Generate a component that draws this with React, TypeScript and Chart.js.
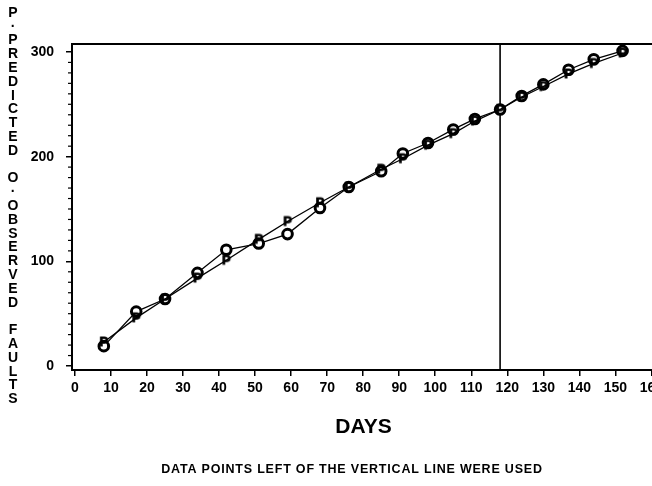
import { useEffect, useRef } from "react";
import { Chart, registerables } from "chart.js";

Chart.register(...registerables);

// ---- data ----
const days = [8, 17, 25, 34, 42, 51, 59, 68, 76, 85, 91, 98, 105, 111, 118, 124, 130, 137, 144, 152];
const observed = [19, 52, 64, 89, 111, 117, 126, 151, 171, 186, 203, 213, 226, 236, 245, 258, 269, 283, 293, 301];
const predicted = [23, 46, 64, 84, 101, 121, 138, 156, 171, 188, 198, 211, 222, 234, 245, 257, 267, 279, 289, 299];

const xTickValues = [0, 10, 20, 30, 40, 50, 60, 70, 80, 90, 100, 110, 120, 130, 140, 150, 160];
const yTickValues = [0, 100, 200, 300];
const yMinorTickValues = [10, 20, 30, 40, 50, 60, 70, 80, 90, 110, 120, 130, 140, 150, 160, 170, 180, 190, 210, 220, 230, 240, 250, 260, 270, 280, 290, 310];

const cutoffDay = 118;
const xTitle = "DAYS";
const yTitle = "P·PREDICTED O·OBSERVED FAULTS";
const footnote = "DATA POINTS LEFT OF THE VERTICAL LINE WERE USED";

const FONT = '"Liberation Sans", Arial, Helvetica, sans-serif';

function makeLetterMarker(ch: string): HTMLCanvasElement {
  const c = document.createElement("canvas");
  c.width = 14;
  c.height = 16;
  const g = c.getContext("2d")!;
  g.fillStyle = "#000";
  g.strokeStyle = "#000";
  g.lineWidth = 0.8;
  g.font = `bold 13px ${FONT}`;
  g.textAlign = "center";
  g.textBaseline = "middle";
  g.fillText(ch, 7, 8.5);
  g.strokeText(ch, 7, 8.5);
  return c;
}

const decorPlugin = {
  id: "decor",
  beforeDatasetsDraw(chart: any) {
    const { ctx, chartArea, scales } = chart;
    ctx.save();
    ctx.strokeStyle = "#000";
    ctx.lineWidth = 1.6;
    const cx = scales.x.getPixelForValue(cutoffDay);
    ctx.beginPath();
    ctx.moveTo(cx, chartArea.top);
    ctx.lineTo(cx, chartArea.bottom);
    ctx.stroke();
    ctx.restore();
  },
  afterDraw(chart: any) {
    const { ctx, chartArea, scales } = chart;
    ctx.save();
    ctx.strokeStyle = "#000";
    // top frame line
    ctx.lineWidth = 2;
    ctx.beginPath();
    ctx.moveTo(chartArea.left - 1, chartArea.top);
    ctx.lineTo(chartArea.right, chartArea.top);
    ctx.stroke();
    // minor ticks on y axis
    ctx.lineWidth = 1.2;
    yMinorTickValues.forEach((v) => {
      const py = scales.y.getPixelForValue(v);
      if (py < chartArea.top) return;
      ctx.beginPath();
      ctx.moveTo(chartArea.left - 4, py);
      ctx.lineTo(chartArea.left, py);
      ctx.stroke();
    });
    // stacked vertical y title
    ctx.fillStyle = "#000";
    ctx.font = `bold 14px ${FONT}`;
    ctx.textAlign = "center";
    ctx.textBaseline = "middle";
    Array.from(yTitle).forEach((ch, i) => {
      ctx.fillText(ch, 13, 13 + i * 13.8);
    });
    // footnote
    ctx.font = `bold 12.5px ${FONT}`;
    (ctx as any).letterSpacing = "0.8px";
    ctx.fillText(footnote, 352, 470);
    ctx.restore();
  },
};

export default function App() {
  const ref = useRef<HTMLCanvasElement | null>(null);

  useEffect(() => {
    if (!ref.current) return;
    const pMarker = makeLetterMarker("P");
    const chart = new Chart(ref.current, {
      type: "line",
      data: {
        datasets: [
          {
            label: "P",
            data: days.map((d, i) => ({ x: d, y: predicted[i] })),
            borderColor: "#000",
            borderWidth: 1.3,
            pointStyle: pMarker as any,
            pointRadius: 7,
            tension: 0,
          },
          {
            label: "O",
            data: days.map((d, i) => ({ x: d, y: observed[i] })),
            borderColor: "#000",
            borderWidth: 1.3,
            pointStyle: "circle",
            pointRadius: 4.8,
            pointBorderWidth: 3,
            pointBackgroundColor: "#fff",
            pointBorderColor: "#000",
            tension: 0,
          },
        ],
      },
      options: {
        responsive: false,
        animation: false,
        layout: { padding: { top: 44, right: 45, left: 0, bottom: 0 } },
        plugins: {
          legend: { display: false },
          tooltip: { enabled: false },
        },
        scales: {
          x: {
            type: "linear",
            min: -0.83,
            max: 161,
            afterBuildTicks: (s: any) => {
              s.ticks = xTickValues.map((v) => ({ value: v }));
            },
            afterFit: (s: any) => {
              s.height = 116;
            },
            grid: { drawOnChartArea: false, drawTicks: true, tickLength: 6, color: "#000", lineWidth: 1.5 },
            border: { display: true, color: "#000", width: 2 },
            ticks: {
              color: "#000",
              font: { family: FONT, size: 14, weight: "bold" },
              padding: 4,
              maxRotation: 0,
              autoSkip: false,
              callback: (v: any) => String(v),
            },
            title: {
              display: true,
              text: xTitle,
              color: "#000",
              font: { family: FONT, size: 21, weight: "bold" },
              padding: { top: 0, bottom: 46 },
            },
          },
          y: {
            type: "linear",
            min: -3.8,
            max: 307.6,
            afterBuildTicks: (s: any) => {
              s.ticks = yTickValues.map((v) => ({ value: v }));
            },
            afterFit: (s: any) => {
              s.width = 72;
            },
            grid: { drawOnChartArea: false, drawTicks: true, tickLength: 6, color: "#000", lineWidth: 1.5 },
            border: { display: true, color: "#000", width: 2 },
            ticks: {
              color: "#000",
              font: { family: FONT, size: 14, weight: "bold" },
              padding: 12,
              callback: (v: any) => String(v),
            },
          },
        },
      },
      plugins: [decorPlugin],
    });
    return () => chart.destroy();
  }, []);

  return (
    <div
      style={{
        position: "fixed",
        left: 0,
        top: 0,
        width: 652,
        height: 486,
        overflow: "hidden",
        background: "#fff",
      }}
    >
      <canvas ref={ref} width={700} height={486} style={{ display: "block" }} />
    </div>
  );
}
